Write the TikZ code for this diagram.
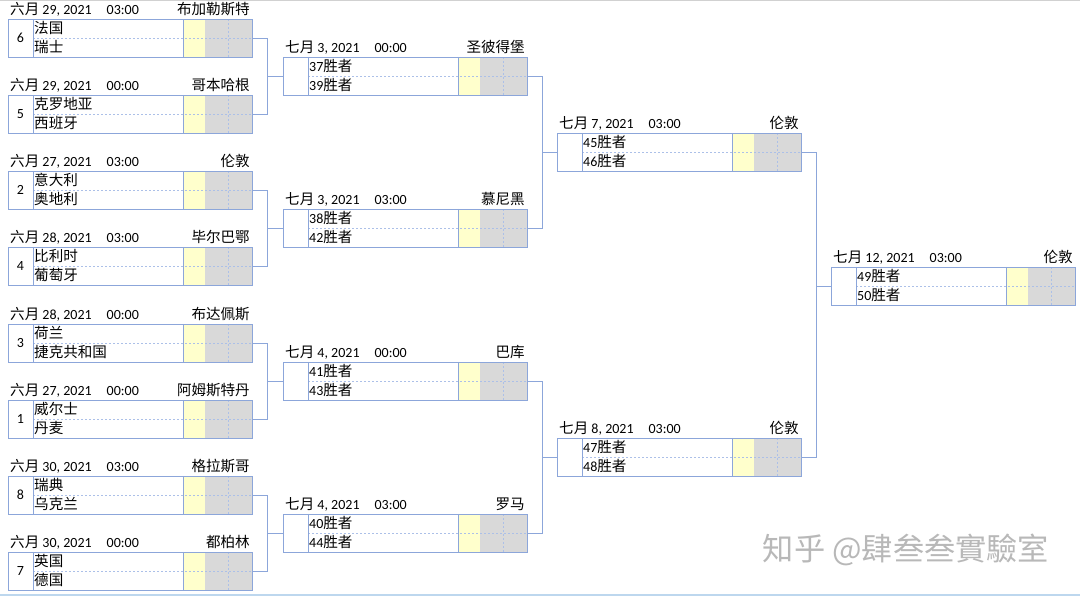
\documentclass[tikz,border=0pt]{standalone}
\usepackage{fontspec}
\setmainfont{Carlito}
\newfontfamily\cjk[Scale=1.04]{Noto Sans CJK SC}
\newcommand{\zh}[1]{{\cjk #1}}
\definecolor{framecol}{RGB}{140,166,218}
\definecolor{dashcol}{RGB}{172,192,232}
\definecolor{scorecol}{RGB}{255,255,204}
\definecolor{extracol}{RGB}{217,217,217}
\definecolor{edgecol}{RGB}{189,215,238}
\tikzset{
  boxframe/.style={draw=framecol, line width=0.9pt},
  rowsep/.style={draw=dashcol, dash pattern=on 2pt off 2pt, line width=0.6pt},
  link/.style={draw=framecol, line width=0.9pt},
  celltext/.style={inner sep=0pt, font=\fontsize{14}{16}\selectfont},
  boxnode/.style={anchor=north west, minimum width=244pt, minimum height=38pt, inner sep=0pt, outer sep=0pt},
  watermark/.style={text=black!28, font=\fontsize{30}{32}\selectfont}
}
% one match: name, x, y, seed, team a, team b, month, date/time, venue
\newcommand{\matchbox}[9]{%
  \node[boxnode] (#1) at (#2,#3) {};
  \begin{scope}[shift={(#2,#3)}]
    \fill[scorecol] (175,0) rectangle (197,-38);
    \fill[extracol] (197,0) rectangle (244,-38);
    \draw[rowsep] (25,-19) -- (244,-19);
    \draw[rowsep] (220,0) -- (220,-38);
    \draw[boxframe] (25,0) -- (25,-38) (175,0) -- (175,-38);
    \draw[boxframe] (0,0) rectangle (244,-38);
    \node[celltext, anchor=base] (#1-seed) at (12.5,-23.5) {#4};
    \node[celltext, anchor=base west] (#1-a) at (26,-14.5) {#5};
    \node[celltext, anchor=base west] (#1-b) at (26,-33.5) {#6};
    \node[celltext, anchor=base west] (#1-date) at (2,4.5) {\zh{#7} #8};
    \node[celltext, anchor=base east] (#1-venue) at (242,4.5) {\zh{#9}};
  \end{scope}}
\newcommand{\at}[2]{#1, 2021\hspace{15pt}#2}

\begin{document}
\begin{tikzpicture}[x=1pt,y=1pt]
\useasboundingbox (0,0) rectangle (1080,597);
\draw [black!18, line width=1pt] (0,596.5) -- (1080,596.5);
\draw [edgecol, line width=2pt] (0,1.5) -- (1080,1.5);

% round of 16
\matchbox{m6}{8}{578}{6}{\zh{法国}}{\zh{瑞士}}{六月}{\at{29}{03:00}}{布加勒斯特}
\matchbox{m5}{8}{502}{5}{\zh{克罗地亚}}{\zh{西班牙}}{六月}{\at{29}{00:00}}{哥本哈根}
\matchbox{m2}{8}{426}{2}{\zh{意大利}}{\zh{奥地利}}{六月}{\at{27}{03:00}}{伦敦}
\matchbox{m4}{8}{350}{4}{\zh{比利时}}{\zh{葡萄牙}}{六月}{\at{28}{03:00}}{毕尔巴鄂}
\matchbox{m3}{8}{273}{3}{\zh{荷兰}}{\zh{捷克共和国}}{六月}{\at{28}{00:00}}{布达佩斯}
\matchbox{m1}{8}{197}{1}{\zh{威尔士}}{\zh{丹麦}}{六月}{\at{27}{00:00}}{阿姆斯特丹}
\matchbox{m8}{8}{121}{8}{\zh{瑞典}}{\zh{乌克兰}}{六月}{\at{30}{03:00}}{格拉斯哥}
\matchbox{m7}{8}{45}{7}{\zh{英国}}{\zh{德国}}{六月}{\at{30}{00:00}}{都柏林}

% quarter finals
\matchbox{q1}{283}{540}{}{37\zh{胜者}}{39\zh{胜者}}{七月}{\at{3}{00:00}}{圣彼得堡}
\matchbox{q2}{283}{388}{}{38\zh{胜者}}{42\zh{胜者}}{七月}{\at{3}{03:00}}{慕尼黑}
\matchbox{q3}{283}{235}{}{41\zh{胜者}}{43\zh{胜者}}{七月}{\at{4}{00:00}}{巴库}
\matchbox{q4}{283}{83}{}{40\zh{胜者}}{44\zh{胜者}}{七月}{\at{4}{03:00}}{罗马}

% semi finals
\matchbox{s1}{557}{464}{}{45\zh{胜者}}{46\zh{胜者}}{七月}{\at{7}{03:00}}{伦敦}
\matchbox{s2}{557}{159}{}{47\zh{胜者}}{48\zh{胜者}}{七月}{\at{8}{03:00}}{伦敦}

% final
\matchbox{f}{831}{330}{}{49\zh{胜者}}{50\zh{胜者}}{七月}{\at{12}{03:00}}{伦敦}

% bracket lines
\draw [link] (m6.east) -- ++(15,0) coordinate (j-q1) |- (m5.east);
\draw [link] (j-q1 |- q1.west) -- (q1.west);
\draw [link] (m2.east) -- ++(15,0) coordinate (j-q2) |- (m4.east);
\draw [link] (j-q2 |- q2.west) -- (q2.west);
\draw [link] (m3.east) -- ++(15,0) coordinate (j-q3) |- (m1.east);
\draw [link] (j-q3 |- q3.west) -- (q3.west);
\draw [link] (m8.east) -- ++(15,0) coordinate (j-q4) |- (m7.east);
\draw [link] (j-q4 |- q4.west) -- (q4.west);
\draw [link] (q1.east) -- ++(15,0) coordinate (j-s1) |- (q2.east);
\draw [link] (j-s1 |- s1.west) -- (s1.west);
\draw [link] (q3.east) -- ++(15,0) coordinate (j-s2) |- (q4.east);
\draw [link] (j-s2 |- s2.west) -- (s2.west);
\draw [link] (s1.east) -- ++(15,0) coordinate (j-f) |- (s2.east);
\draw [link] (j-f |- f.west) -- (f.west);

\node [watermark] (wm) at (906,47) {\zh{知乎 @肆叁叁實驗室}};
\end{tikzpicture}
\end{document}
